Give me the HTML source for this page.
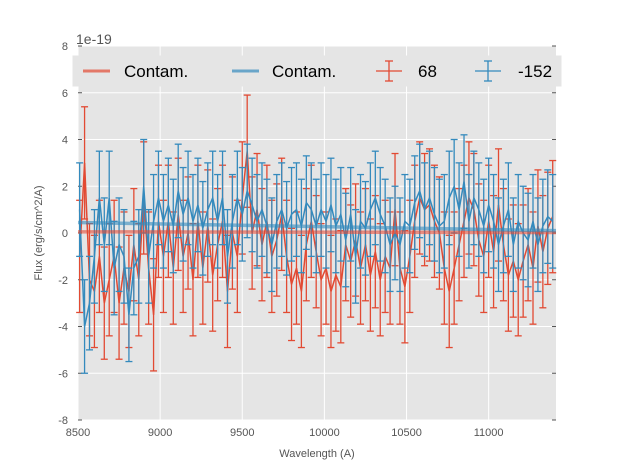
<!DOCTYPE html>
<html><head><meta charset="utf-8"><style>
body{margin:0;background:#fff;}
svg text{font-family:"Liberation Sans",sans-serif;}
</style></head><body>
<svg id="c" width="617" height="467" xmlns="http://www.w3.org/2000/svg"></svg>
<script>
const xStart=8510, xStep=30;
const redFlux=[-1,3,-2,-2.5,-1,-3,-2,-1,-3,-1.5,-2.5,-0.5,-2,1.5,-1.5,-3.5,0.5,-1,0.5,-1.5,0.8,-1,0,-2,0.5,-1.5,0.3,-1.8,-0.5,0.5,-2.5,0,-1,1.5,3.5,0,1,-0.5,0.5,-1,-0.3,0.8,-1,-2.2,-1.5,-2.5,-0.5,0.5,-0.8,-2,-1.5,-2.5,-1.8,-2.3,-0.5,-1.2,-0.3,-1.5,-0.5,-1.8,-0.8,-2,-1,-1.5,1,-1.5,-2.3,-1,0.5,1.5,1,1.2,0.5,0,-1.5,-2.5,-1.5,-0.5,0.5,1.5,1,-0.3,-1,0.5,-0.8,1.2,-0.5,-1.8,-1.2,-2,-1.2,-0.5,-1.5,0.3,-0.8,0.2,0.7];
const blueFlux=[1,-4,-3,-1,1.5,-0.5,1.5,-1.5,-0.5,-1,-3.5,-1.5,-1,2,-1,0.5,1.5,0.5,1.2,0.3,1.8,0.8,1.5,0.5,1.2,0.2,1,1.5,0.5,1.5,-1,0.5,1.5,0.8,1.8,1.2,0.5,1,0.3,-0.5,0.5,1,0.2,0.8,1,0.3,1.3,1,0.3,1,0.5,1.2,0.3,0.8,-0.3,0.8,-1,0.5,0.2,1,1.5,0.8,0.3,-0.5,0,-0.5,0.5,0.3,1.3,1.8,1,1.5,0.8,0.3,0.5,1.5,2,1,2.2,0.5,1.5,1,0.3,1.2,0.5,-0.5,0.3,1,-0.5,0.5,0,-0.3,0.5,-0.5,0.3,0.7,0.5];
const redErr=[2.4];
const blueErr=[2.0];
const redContam=[0.05,0.02];
const blueContam=[0.45,0.1];
const xTicks=[8500,9000,9500,10000,10500,11000];
const yTicks=[-8,-6,-4,-2,0,2,4,6,8];
const X0=78,X1=556,Y0=46,Y1=420, xmin=8500,xmax=11410,ymin=-8,ymax=8;
const xs=v=>X0+(v-xmin)/(xmax-xmin)*(X1-X0);
const ys=v=>Y1-(v-ymin)/(ymax-ymin)*(Y1-Y0);
const svg=document.getElementById('c');
const NS='http://www.w3.org/2000/svg';
function mk(t,a,p){const e=document.createElementNS(NS,t);for(const k in a)e.setAttribute(k,a[k]);(p||svg).appendChild(e);return e;}
let e=mk('rect',{x:X0,y:Y0,width:X1-X0,height:Y1-Y0,fill:'#E5E5E5'});


xTicks.forEach(t=>{const x=xs(t);
 let g=mk('line',{x1:x,x2:x,y1:Y0,y2:Y1,stroke:'#fff','stroke-width':1});
 
 
 let l=mk('text',{x:x,y:Y1+16,'font-size':11,fill:'#555','text-anchor':'middle'});l.textContent=t;
 
 
});
yTicks.forEach(t=>{const y=ys(t);
 let g=mk('line',{x1:X0,x2:X1,y1:y,y2:y,stroke:'#fff','stroke-width':1});
 
 
 mk('line',{x1:X0,x2:X0+4,y1:y,y2:y,stroke:'#555'});
 mk('line',{x1:X1-4,x2:X1,y1:y,y2:y,stroke:'#555'});
 let l=mk('text',{x:X0-10,y:y+4,'font-size':11,fill:'#555','text-anchor':'end'});l.textContent=t;
 
 
});
function series(vals,err,col,name){
 const g=mk('g',{});
 
 
 let d='';
 vals.forEach((v,i)=>{const x=xs(xStart+xStep*i);
  mk('line',{x1:x,x2:x,y1:ys(v-err[0]),y2:ys(v+err[0]),stroke:col,'stroke-width':1.3},g);
  mk('line',{x1:x-3.5,x2:x+3.5,y1:ys(v-err[0]),y2:ys(v-err[0]),stroke:col,'stroke-width':1.3},g);
  mk('line',{x1:x-3.5,x2:x+3.5,y1:ys(v+err[0]),y2:ys(v+err[0]),stroke:col,'stroke-width':1.3},g);
  d+=(i?'L':'M')+x.toFixed(1)+' '+ys(v).toFixed(1);
 });
 mk('path',{d:d,fill:'none',stroke:col,'stroke-width':1.5},g);
}
series(redFlux,redErr,'#E24A33','series-68');
series(blueFlux,blueErr,'#348ABD','series-neg152');
function contam(v,col,name){
 let l=mk('line',{x1:X0,x2:X1,y1:ys(v[0]),y2:ys(v[1]),stroke:col,'stroke-width':3.5,'stroke-opacity':0.6});
 
 
}
contam(redContam,'#E24A33','contam-line-red');
contam(blueContam,'#348ABD','contam-line-blue');
const lg=mk('g',{});


mk('rect',{x:73,y:56,width:488,height:30,fill:'#E5E5E5',stroke:'#E5E5E5'},lg);
const ly=71;
mk('line',{x1:83,x2:110,y1:ly,y2:ly,stroke:'#E24A33','stroke-width':3,'stroke-opacity':0.7},lg);
mk('line',{x1:232,x2:259,y1:ly,y2:ly,stroke:'#348ABD','stroke-width':3,'stroke-opacity':0.7},lg);
[[389,'#E24A33'],[488,'#348ABD']].forEach(([cx,c])=>{
 mk('line',{x1:cx-13,x2:cx+13,y1:ly,y2:ly,stroke:c,'stroke-width':1.3},lg);
 mk('line',{x1:cx,x2:cx,y1:ly-10,y2:ly+10,stroke:c,'stroke-width':1.3},lg);
 mk('line',{x1:cx-4,x2:cx+4,y1:ly-10,y2:ly-10,stroke:c,'stroke-width':1.3},lg);
 mk('line',{x1:cx-4,x2:cx+4,y1:ly+10,y2:ly+10,stroke:c,'stroke-width':1.3},lg);
});
[[124,'Contam.','legend-entry-contam-red'],[272,'Contam.','legend-entry-contam-blue'],[418,'68','legend-entry-68'],[518,'-152','legend-entry-neg152']].forEach(([x,t,n])=>{
 let l=mk('text',{x:x,y:ly+6,'font-size':17,fill:'#000'},lg);l.textContent=t;
 
 
});
let t=mk('text',{x:76,y:44,'font-size':14,fill:'#555'});t.textContent='1e-19';


t=mk('text',{x:(X0+X1)/2,y:457,'font-size':11,fill:'#555','text-anchor':'middle'});t.textContent='Wavelength (A)';


t=mk('text',{x:0,y:0,'font-size':11,fill:'#555','text-anchor':'middle',transform:'translate(42,233) rotate(-90)'});t.textContent='Flux (erg/s/cm^2/A)';


</script>
</body></html>
